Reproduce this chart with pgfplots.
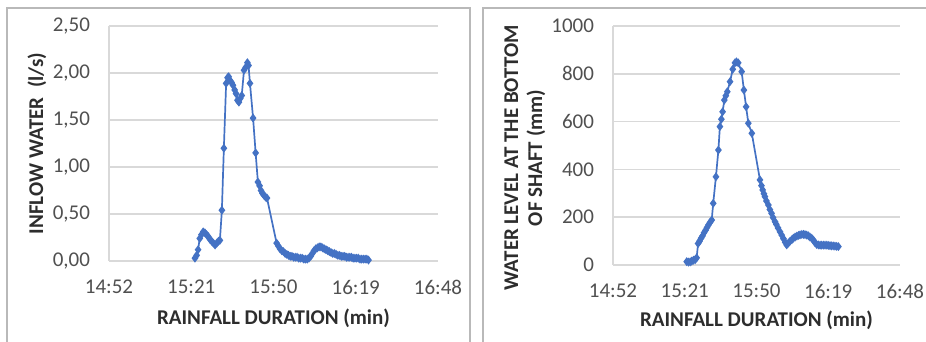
\documentclass[border=0pt]{standalone}
\usepackage{pgfplots}
\pgfplotsset{compat=1.18}
\usepackage{pgfplotstable}
\usepackage{fontspec}
\setmainfont{Carlito}
\definecolor{xlblue}{RGB}{68,114,196}
\definecolor{tickgray}{RGB}{80,80,80}
\definecolor{labgray}{RGB}{45,45,45}
\definecolor{gridgray}{RGB}{217,217,217}
\definecolor{framegray}{RGB}{185,185,185}

\pgfplotstableread{
t v
30.3 0.03
30.9 0.06
31.4 0.12
32.0 0.24
32.6 0.28
33.2 0.31
33.8 0.30
34.4 0.28
35.0 0.26
35.6 0.23
36.2 0.21
36.8 0.19
37.4 0.17
38.0 0.19
38.6 0.21
39.1 0.22
39.8 0.54
40.5 1.20
41.3 1.89
41.8 1.95
42.2 1.96
42.7 1.92
43.2 1.90
43.7 1.87
44.3 1.82
44.8 1.78
45.3 1.71
45.8 1.69
46.3 1.73
46.8 1.76
47.6 2.03
48.2 2.06
48.8 2.11
49.2 2.08
49.7 1.89
50.8 1.52
51.7 1.15
52.5 0.84
53.1 0.80
53.6 0.75
54.1 0.72
54.6 0.70
55.2 0.68
55.7 0.67
59.1 0.19
59.7 0.16
60.3 0.13
60.9 0.11
61.5 0.10
62.1 0.08
62.7 0.07
63.3 0.06
63.9 0.05
64.5 0.05
65.1 0.04
65.7 0.04
66.3 0.04
66.9 0.03
67.5 0.03
68.1 0.03
68.7 0.02
69.3 0.02
69.9 0.02
70.5 0.03
71.1 0.05
71.7 0.08
72.3 0.11
72.9 0.13
73.5 0.14
74.1 0.15
74.7 0.15
75.3 0.14
75.9 0.13
76.5 0.12
77.1 0.11
77.7 0.10
78.3 0.09
78.9 0.08
79.5 0.08
80.1 0.07
80.7 0.06
81.3 0.06
81.9 0.05
82.5 0.05
83.1 0.05
83.7 0.04
84.3 0.04
84.9 0.04
85.5 0.04
86.1 0.03
86.7 0.03
87.3 0.03
87.9 0.03
88.5 0.02
89.1 0.02
89.7 0.02
90.3 0.02
90.9 0.02
91.5 0.01
}\inflow

\pgfplotstableread{
t v
29.8 14
30.5 12
31.2 13
31.8 16
32.5 20
33.2 22
33.8 30
34.4 90
35.0 100
35.6 112
36.2 122
36.8 135
37.4 145
38.0 157
38.6 168
39.2 178
39.9 188
40.5 258
41.6 369
42.6 481
43.2 579
43.8 610
44.3 641
45.0 690
45.6 708
46.2 725
47.3 767
48.4 819
49.3 846
49.9 850
50.6 846
52.0 809
52.9 732
53.8 662
54.7 593
56.1 551
59.4 356
60.0 332
60.5 314
61.0 298
61.4 286
62.0 268
62.8 251
63.4 232
64.1 216
64.7 198
65.5 181
66.0 170
66.7 155
67.5 139
68.2 125
68.9 110
69.6 95
70.2 84
70.9 92
71.6 100
72.3 106
72.9 112
73.6 117
74.3 121
75.0 124
75.6 126
76.3 128
77.0 128
77.6 127
78.3 125
79.0 122
79.6 117
80.3 112
81.0 104
81.6 94
82.3 86
83.0 84
83.7 83
84.3 83
85.0 83
85.7 83
86.4 83
87.0 82
87.7 81
88.3 80
89.0 80
89.7 79
90.4 78
91.1 77
}\level

\pgfplotsset{
  xlstyle/.style={
    scale only axis,
    anchor=south west,
    separate axis lines,
    axis y line*=left,
    x axis line style={draw=none},
    y axis line style={draw=gridgray, line width=0.8pt, -},
    major tick length=0pt,
    xmin=0, xmax=116,
    xtick={0,29,58,87,116},
    xticklabels={14:52,15:21,15:50,16:19,16:48},
    ymajorgrids,
    grid style={gridgray, line width=0.8pt},
    tick label style={font=\fontsize{10.5}{12}\selectfont, color=tickgray},
    label style={font=\bfseries\fontsize{10.5}{12}\selectfont, color=labgray},
    yticklabel style={xshift=-6pt},
    xticklabel style={yshift=-6pt},
    /pgf/number format/assume math mode=true,
  },
  xlplot/.style={xlblue, line width=0.85pt, mark=diamond*, mark size=1.55pt,
    mark options={fill=xlblue, draw=xlblue}},
}

\begin{document}
\begin{tikzpicture}
\useasboundingbox (0pt,0pt) rectangle (463pt,171pt);
\draw[framegray, line width=0.8pt] (3.5pt,-5pt) -- (3.5pt,167pt) -- (235pt,167pt) -- (235pt,-5pt);
\draw[framegray, line width=0.8pt] (241.5pt,-5pt) -- (241.5pt,167pt) -- (470pt,167pt);

\begin{axis}[xlstyle,
  at={(54.5pt,40.5pt)}, width=164.5pt, height=117.5pt,
  ymin=0, ymax=2.5, ytick={0,0.5,1,1.5,2,2.5},
  yticklabel style={/pgf/number format/.cd, fixed, fixed zerofill, precision=2, use comma},
  ylabel={INFLOW WATER\ \ (l/s)},
  xlabel={RAINFALL DURATION (min)},
  ylabel style={at={(axis description cs:-0.219,0.5)}, anchor=center},
  xlabel style={at={(axis description cs:0.5,-0.243)}, anchor=center},
]
\addplot[xlplot] table[x=t, y=v] {\inflow};
\end{axis}

\begin{axis}[xlstyle,
  at={(306.5pt,38.5pt)}, width=143.5pt, height=119.5pt,
  ymin=0, ymax=1000, ytick={0,200,400,600,800,1000},
  yticklabel style={/pgf/number format/.cd, fixed, 1000 sep={}},
  ylabel={WATER LEVEL AT THE BOTTOM\\OF SHAFT (mm)},
  xlabel={RAINFALL DURATION (min)},
  ylabel style={align=center, at={(axis description cs:-0.307,0.448)}, anchor=center},
  xlabel style={at={(axis description cs:0.5,-0.23)}, anchor=center},
]
\addplot[xlplot] table[x=t, y=v] {\level};
\end{axis}
\end{tikzpicture}
\end{document}
